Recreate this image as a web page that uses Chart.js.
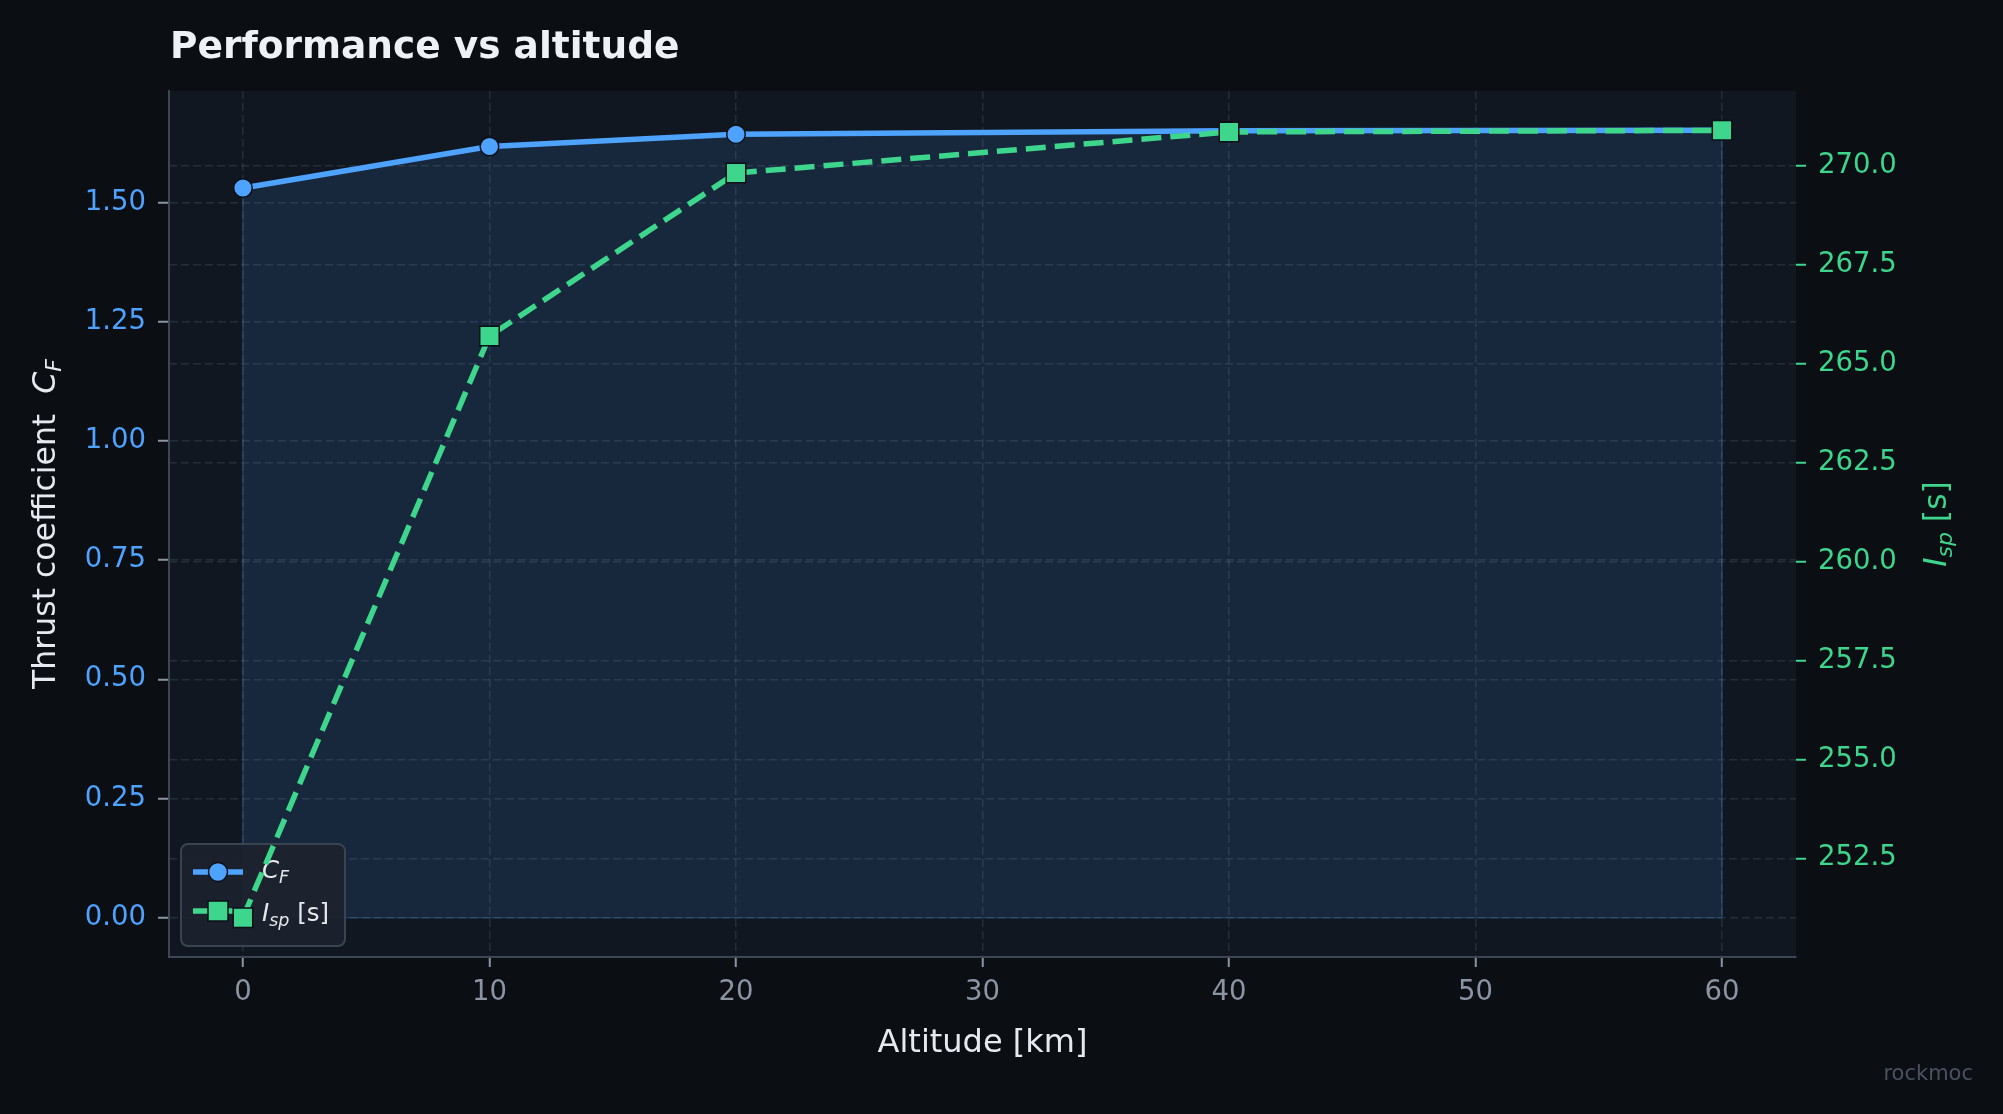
<!DOCTYPE html>
<html>
<head>
<meta charset="utf-8">
<script src="https://cdn.jsdelivr.net/npm/chart.js@4.4.1/dist/chart.umd.min.js"></script>
<style>
  html, body { margin: 0; padding: 0; background: #0b0e13; }
  #wrap { width: 2003px; height: 1114px; }
</style>
</head>
<body>
<div id="wrap"><canvas id="chart" width="2003" height="1114"></canvas></div>
<script>
// data
const altitudes = [0, 10, 20, 40, 60]
const thrustCoef = [1.531, 1.618, 1.644, 1.651, 1.652]
const specImpulse = [251.0, 265.7, 269.82, 270.86, 270.9]

const altitudeTicks = [0, 10, 20, 30, 40, 50, 60]
const cfTicks = [0, 0.25, 0.5, 0.75, 1.0, 1.25, 1.5]
const ispTicks = [252.5, 255, 257.5, 260, 262.5, 265, 267.5, 270]

const FONT = "DejaVu Sans"
const BLUE = "#4da3ff"
const GREEN = "#3dd68c"
const GRID = "rgba(148,163,184,0.16)"
const TICK_GREY = "#8a94a3"

// matplotlib style 5% margins
function padRange(lo, hi) {
  const m = (hi - lo) * 0.05
  return [lo - m, hi + m]
}
const cfRange = padRange(Math.min(0, ...thrustCoef), Math.max(...thrustCoef))
const ispRange = padRange(Math.min(...specImpulse), Math.max(...specImpulse))

// draw a run of text pieces (for sub/italic parts)
function drawRich(ctx, parts, x, y, align) {
  let total = 0
  parts.forEach(p => {
    ctx.font = (p.italic ? "italic " : "") + (p.bold ? "bold " : "") + p.size + "px '" + FONT + "'"
    p.w = ctx.measureText(p.t).width
    total += p.w
  })
  let cx = align === "center" ? x - total / 2 : (align === "right" ? x - total : x)
  ctx.textBaseline = "alphabetic"
  ctx.textAlign = "left"
  parts.forEach(p => {
    ctx.font = (p.italic ? "italic " : "") + (p.bold ? "bold " : "") + p.size + "px '" + FONT + "'"
    ctx.fillStyle = p.color
    ctx.fillText(p.t, cx, y + (p.dy || 0))
    cx += p.w
  })
}

const decorPlugin = {
  id: "decor",
  beforeDraw(chart) {
    const { ctx, chartArea: a } = chart
    ctx.save()
    ctx.fillStyle = "#0b0e13"
    ctx.fillRect(0, 0, chart.width, chart.height)
    ctx.fillStyle = "#111720"
    ctx.fillRect(a.left, a.top, a.right - a.left, a.bottom - a.top)
    ctx.restore()
  },
  beforeDatasetsDraw(chart) {
    const { ctx, scales } = chart
    const x = scales.x, y = scales.y
    // fill_between edges
    const x0 = x.getPixelForValue(altitudes[0])
    const x1 = x.getPixelForValue(altitudes[altitudes.length - 1])
    const yb = y.getPixelForValue(0)
    ctx.save()
    ctx.strokeStyle = "rgba(77,163,255,0.22)"
    ctx.lineWidth = 1.5
    ctx.beginPath()
    ctx.moveTo(x0, y.getPixelForValue(thrustCoef[0]))
    ctx.lineTo(x0, yb)
    ctx.lineTo(x1, yb)
    ctx.lineTo(x1, y.getPixelForValue(thrustCoef[thrustCoef.length - 1]))
    ctx.stroke()

    // legend box (sits under the lines, as in the reference)
    const bx = 181, by = 844, bw = 164, bh = 102
    ctx.fillStyle = "rgba(28,34,45,0.95)"
    ctx.strokeStyle = "#3a4352"
    ctx.lineWidth = 2
    ctx.beginPath()
    ctx.roundRect(bx, by, bw, bh, 7)
    ctx.fill()
    ctx.stroke()

    // C_F handle
    ctx.strokeStyle = BLUE
    ctx.lineWidth = 5.5
    ctx.beginPath()
    ctx.moveTo(193, 872)
    ctx.lineTo(243, 872)
    ctx.stroke()
    ctx.fillStyle = BLUE
    ctx.strokeStyle = "#0b0f17"
    ctx.lineWidth = 1.5
    ctx.beginPath()
    ctx.arc(218, 872, 9.5, 0, Math.PI * 2)
    ctx.fill()
    ctx.stroke()

    // I_sp handle
    ctx.strokeStyle = GREEN
    ctx.lineWidth = 5.5
    ctx.setLineDash([20, 9])
    ctx.beginPath()
    ctx.moveTo(193, 911)
    ctx.lineTo(243, 911)
    ctx.stroke()
    ctx.setLineDash([])
    ctx.fillStyle = GREEN
    ctx.strokeStyle = "#0b0f17"
    ctx.lineWidth = 1.5
    ctx.fillRect(208, 901, 20, 20)
    ctx.strokeRect(208, 901, 20, 20)

    drawRich(ctx, [
      { t: "C", size: 24.5, italic: true, color: "#e5e7eb" },
      { t: "F", size: 17.5, italic: true, color: "#e5e7eb", dy: 5 }
    ], 262, 878, "left")
    drawRich(ctx, [
      { t: "I", size: 24.5, italic: true, color: "#e5e7eb" },
      { t: "sp", size: 17.5, italic: true, color: "#e5e7eb", dy: 5 },
      { t: " [s]", size: 24.5, color: "#e5e7eb" }
    ], 262, 921, "left")
    ctx.restore()
  },
  afterDraw(chart) {
    const { ctx, chartArea: a } = chart
    ctx.save()
    // title
    drawRich(ctx, [{ t: "Performance vs altitude", size: 37.5, bold: true, color: "#eef1f6" }], 170, 58, "left")
    // x title
    drawRich(ctx, [{ t: "Altitude [km]", size: 32, color: "#e6e9ef" }], (a.left + a.right) / 2, 1052, "center")
    const cy = (a.top + a.bottom) / 2
    // left title
    ctx.save()
    ctx.translate(55, cy)
    ctx.rotate(-Math.PI / 2)
    drawRich(ctx, [
      { t: "Thrust coefficient  ", size: 31.5, color: "#e6e9ef" },
      { t: "C", size: 31.5, italic: true, color: "#e6e9ef" },
      { t: "F", size: 22, italic: true, color: "#e6e9ef", dy: 6 }
    ], 0, 0, "center")
    ctx.restore()
    // right title
    ctx.save()
    ctx.translate(1946, cy)
    ctx.rotate(-Math.PI / 2)
    drawRich(ctx, [
      { t: "I", size: 31.5, italic: true, color: GREEN },
      { t: "sp", size: 22, italic: true, color: GREEN, dy: 6 },
      { t: " [s]", size: 31.5, color: GREEN }
    ], 0, 0, "center")
    ctx.restore()
    // watermark
    drawRich(ctx, [{ t: "rockmoc", size: 21, color: "#4a5261" }], 1973, 1080, "right")
    ctx.restore()
  }
}

new Chart(document.getElementById("chart"), {
  type: "line",
  data: {
    datasets: [
      {
        label: "C_F",
        data: altitudes.map((a, i) => ({ x: a, y: thrustCoef[i] })),
        yAxisID: "y",
        order: 1,
        borderColor: BLUE,
        borderWidth: 5.5,
        fill: "origin",
        backgroundColor: "rgba(77,163,255,0.125)",
        pointStyle: "circle",
        pointRadius: 9.3,
        pointBackgroundColor: BLUE,
        pointBorderColor: "#0b0f17",
        pointBorderWidth: 1.5
      },
      {
        label: "I_sp [s]",
        data: altitudes.map((a, i) => ({ x: a, y: specImpulse[i] })),
        yAxisID: "y2",
        order: 0,
        borderColor: GREEN,
        borderWidth: 5.5,
        borderDash: [20, 9],
        fill: false,
        pointStyle: "rect",
        pointRadius: 13.8,
        pointBackgroundColor: GREEN,
        pointBorderColor: "#0b0f17",
        pointBorderWidth: 1.5
      }
    ]
  },
  options: {
    responsive: false,
    devicePixelRatio: 1,
    animation: false,
    events: [],
    layout: { padding: { top: 91, left: 0, right: 0, bottom: 0 } },
    plugins: {
      legend: { display: false },
      tooltip: { enabled: false },
      filler: { drawTime: "beforeDatasetsDraw" }
    },
    scales: {
      x: {
        type: "linear",
        min: -3,
        max: 63,
        afterBuildTicks: s => { s.ticks = altitudeTicks.map(v => ({ value: v })) },
        afterFit: s => { s.height = 157 },
        grid: { color: GRID, lineWidth: 1.5, tickColor: TICK_GREY, tickLength: 10, tickWidth: 2 },
        border: { display: true, color: "#3d4655", width: 2, dash: [8, 4] },
        ticks: {
          color: TICK_GREY, font: { family: FONT, size: 27.5 }, padding: 9,
          autoSkip: false, maxRotation: 0,
          callback: v => String(v)
        }
      },
      y: {
        type: "linear",
        position: "left",
        min: cfRange[0],
        max: cfRange[1],
        afterBuildTicks: s => { s.ticks = cfTicks.map(v => ({ value: v })) },
        afterFit: s => { s.width = 169 },
        grid: { color: GRID, lineWidth: 1.5, tickColor: TICK_GREY, tickLength: 11, tickWidth: 2 },
        border: { display: true, color: "#3d4655", width: 2, dash: [8, 4] },
        ticks: {
          color: BLUE, font: { family: FONT, size: 27.5 }, padding: 12,
          autoSkip: false,
          callback: v => Number(v).toFixed(2)
        }
      },
      y2: {
        type: "linear",
        position: "right",
        min: ispRange[0],
        max: ispRange[1],
        afterBuildTicks: s => { s.ticks = ispTicks.map(v => ({ value: v })) },
        afterFit: s => { s.width = 207 },
        grid: { color: GRID, lineWidth: 1.5, tickColor: GREEN, tickLength: 10, tickWidth: 2 },
        border: { display: false, dash: [8, 4] },
        ticks: {
          color: GREEN, font: { family: FONT, size: 27.5 }, padding: 12,
          autoSkip: false,
          callback: v => Number(v).toFixed(1)
        }
      }
    }
  },
  plugins: [decorPlugin]
})
</script>
</body>
</html>
